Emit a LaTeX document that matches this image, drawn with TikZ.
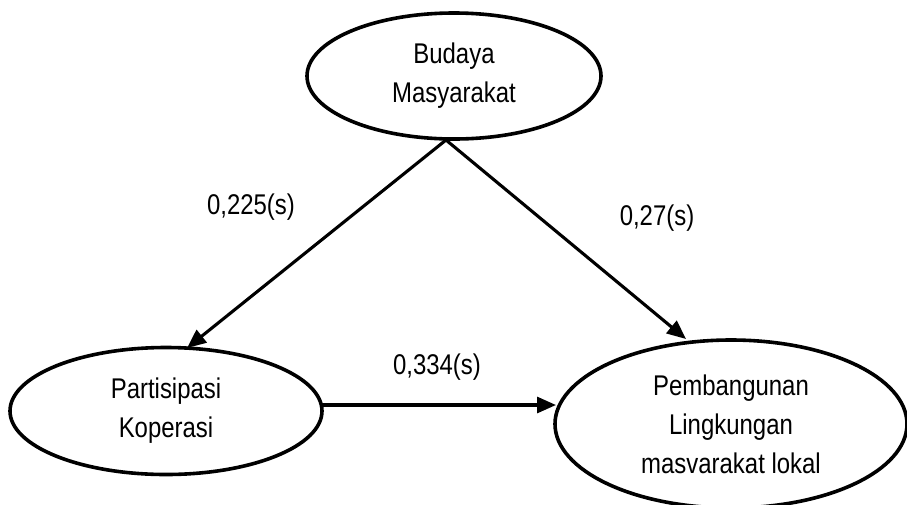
\documentclass[tikz,border=0pt]{standalone}
\usepackage{fontspec}
\setmainfont[FakeStretch=0.84]{Liberation Sans}
\usetikzlibrary{shapes.geometric,arrows.meta}
\begin{document}
\begin{tikzpicture}[x=1pt,y=-1pt,
  var/.style={ellipse,draw,line width=3.6pt,inner sep=0pt,align=center,
    font=\fontsize{28.5}{39}\selectfont},
  path/.style={line width=3.1pt,-{Triangle[length=19pt,width=16pt]}},
  coef/.style={font=\fontsize{28.5}{33}\selectfont,inner sep=0pt}]
\useasboundingbox (0,0) rectangle (907,504);
\clip (0,0) rectangle (907,504);
\node[var,minimum width=294pt,minimum height=126pt] (bm) at (454,76) {Budaya\\Masyarakat};
\node[var,minimum width=312pt,minimum height=127pt] (pk) at (166,411) {Partisipasi\\Koperasi};
\node[var,minimum width=352pt,minimum height=168pt] (pl) at (731,424) {Pembangunan\\Lingkungan\\masvarakat lokal};
\coordinate (apex) at (446,140);
\coordinate (t1) at (187,348);
\coordinate (t2) at (686,339);
\coordinate (s3) at (322,405);
\coordinate (t3) at (556,405);
\draw[path] (apex) -- (t1);
\draw[path] (apex) -- (t2);
\draw[path] (s3) -- (t3);
\node[coef] (c1) at (251,207) {0,225(s)};
\node[coef] (c2) at (657,218) {0,27(s)};
\node[coef] (c3) at (437,367) {0,334(s)};
\end{tikzpicture}
\end{document}
